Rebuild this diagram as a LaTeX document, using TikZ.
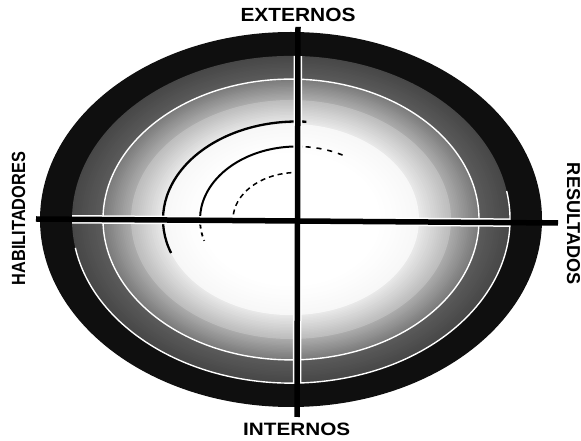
\documentclass[tikz,border=0pt]{standalone}
\usepackage{fontspec}
\setmainfont{Liberation Sans}
\usepackage{graphicx}
\begin{document}
\begin{tikzpicture}[x=1pt,y=1pt,
  axis/.style={line width=5.5pt,black},
  axiscase/.style={line width=8.5pt,white},
  ringline/.style={white,line width=1.4pt},
  lbl/.style={inner sep=0pt,font=\bfseries}]
\useasboundingbox (0,0) rectangle (581,441);
\fill[white] (0,0) rectangle (581,441);
\coordinate (c) at (291,221.5);
\coordinate (o) at (297,221.5);
% graded rings
\foreach \ra/\rb/\ga/\gb in {251/219/94/94,219/188/72/64,188/160/52/32,160/128/26/8,128/90/3/0}{
  \foreach \i in {0,...,15}{
    \pgfmathsetmacro\rr{\ra-(\ra-\rb)*\i/16}
    \pgfmathsetmacro\ry{0.747*\rr}
    \pgfmathsetmacro\gg{\ga+(\gb-\ga)*\i/16}
    \fill[black!\gg] (c) ellipse [x radius=\rr pt, y radius=\ry pt];
  }
}
\fill[white] (c) ellipse [x radius=90pt, y radius=67.2pt];
% white separating lines
\draw[ringline] (c) ellipse [x radius=188pt, y radius=140.4pt];
\draw[ringline] (c) ++(190:219pt and 163.6pt) arc[start angle=190,end angle=370,x radius=219pt,y radius=163.6pt];
% inner arcs
\draw[line width=2.3pt] (o) ++(86:134pt and 98pt) arc[start angle=86,end angle=200,x radius=134pt,y radius=98pt];
\draw[line width=2pt] (o) ++(87:97pt and 73pt) arc[start angle=87,end angle=184,x radius=97pt,y radius=73pt];
\draw[line width=1.8pt,dash pattern=on 4pt off 4pt] (o) ++(184:97pt and 73pt) arc[start angle=184,end angle=197,x radius=97pt,y radius=73pt];
\draw[line width=1.6pt,dash pattern=on 5pt off 6pt] (o) ++(62:97pt and 73pt) arc[start angle=62,end angle=86,x radius=97pt,y radius=73pt];
\draw[line width=1.5pt,dash pattern=on 5pt off 4pt] (o) ++(95:64pt and 47pt) arc[start angle=95,end angle=178,x radius=64pt,y radius=47pt];
% axes
\coordinate (vt) at (298,414);
\coordinate (vb) at (297,24);
\coordinate (hl) at (36,222);
\coordinate (hr) at (558,218);
\begin{scope}
  \clip (c) ellipse [x radius=219pt, y radius=163.6pt];
  \draw[axiscase] (vt) -- (vb);
  \draw[axiscase] (hl) -- (hr);
\end{scope}
\draw[axis] (vt) -- (vb);
\draw[axis] (hl) -- (hr);
% labels
\node[lbl] (ext) at (298,426) {\resizebox{115pt}{13.3pt}{EXTERNOS}};
\node[lbl] (int) at (296.7,12) {\resizebox{107pt}{12.5pt}{INTERNOS}};
\node[lbl,rotate=90] (hab) at (18.5,222.5) {\resizebox{133pt}{13.3pt}{HABILITADORES}};
\node[lbl,rotate=-90] (res) at (573.5,217) {\resizebox{122pt}{13pt}{RESULTADOS}};
\end{tikzpicture}
\end{document}
